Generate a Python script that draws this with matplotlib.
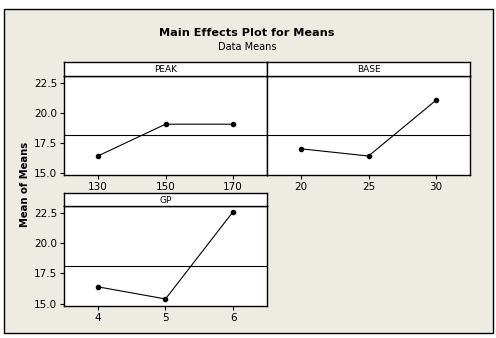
import matplotlib

matplotlib.use("Agg")
import matplotlib.pyplot as plt
from matplotlib.patches import Rectangle

# level means
PEAK_LEVELS = [130, 150, 170]
PEAK_MEANS = [16.4, 19.05, 19.05]

BASE_LEVELS = [20, 25, 30]
BASE_MEANS = [17.0, 16.4, 21.05]

GP_LEVELS = [4, 5, 6]
GP_MEANS = [16.4, 15.4, 22.6]

GRAND_MEAN = 18.12
Y_TICKS = [15.0, 17.5, 20.0, 22.5]

BG = "#EEEBE3"
W, H = 496, 338

plt.rcParams["font.family"] = "DejaVu Sans"


def box(left, top, right, bottom):
    # pixel box -> figure fraction [l, b, w, h]
    return [left / W, 1 - bottom / H, (right - left) / W, (bottom - top) / H]


def panel(fig, name, levels, means, left, right, strip_top, strip_bottom, bottom, show_y):
    ax = fig.add_axes(box(left, strip_bottom, right, bottom))
    ax.set_facecolor("white")
    ax.plot(levels, means, color="black", linewidth=0.8, marker="o", markersize=3)
    ax.axhline(GRAND_MEAN, color="black", linewidth=0.8)
    step = levels[1] - levels[0]
    ax.set_xlim(levels[0] - step / 2, levels[-1] + step / 2)
    ax.set_ylim(14.82, 23.06)
    ax.set_xticks(levels)
    ax.set_yticks(Y_TICKS)
    ax.set_yticklabels([f"{v:.1f}" for v in Y_TICKS] if show_y else [])
    ax.tick_params(direction="out", length=3, width=0.8, labelsize=7.5, pad=2,
                   colors="black", left=show_y)
    for s in ax.spines.values():
        s.set_linewidth(1.0)

    st = fig.add_axes(box(left, strip_top, right, strip_bottom))
    st.set_facecolor("white")
    st.set_xticks([])
    st.set_yticks([])
    for s in st.spines.values():
        s.set_linewidth(1.0)
    st.text(0.5, 0.45, name, ha="center", va="center", fontsize=6.5, transform=st.transAxes)
    return ax


fig = plt.figure(figsize=(W / 100, H / 100), dpi=100, facecolor="white")
frame = Rectangle((4 / W, 1 - 333 / H), 489 / W, 324 / H, transform=fig.transFigure,
                  facecolor=BG, edgecolor="black", linewidth=1.0, zorder=-10)
fig.add_artist(frame)

panel(fig, "PEAK", PEAK_LEVELS, PEAK_MEANS, 64, 267, 62, 76, 175, True)
panel(fig, "BASE", BASE_LEVELS, BASE_MEANS, 267, 470, 62, 76, 175, False)
panel(fig, "GP", GP_LEVELS, GP_MEANS, 64, 267, 193, 206, 306, True)

fig.text(247 / W, 1 - 33 / H, "Main Effects Plot for Means", ha="center", va="center",
         fontsize=8.1, fontweight="bold")
fig.text(247 / W, 1 - 47 / H, "Data Means", ha="center", va="center", fontsize=7)
fig.text(25 / W, 1 - 184 / H, "Mean of Means", ha="center", va="center", rotation=90,
         fontsize=7.2, fontweight="bold")

fig.savefig("out.png", dpi=100, facecolor="white")
